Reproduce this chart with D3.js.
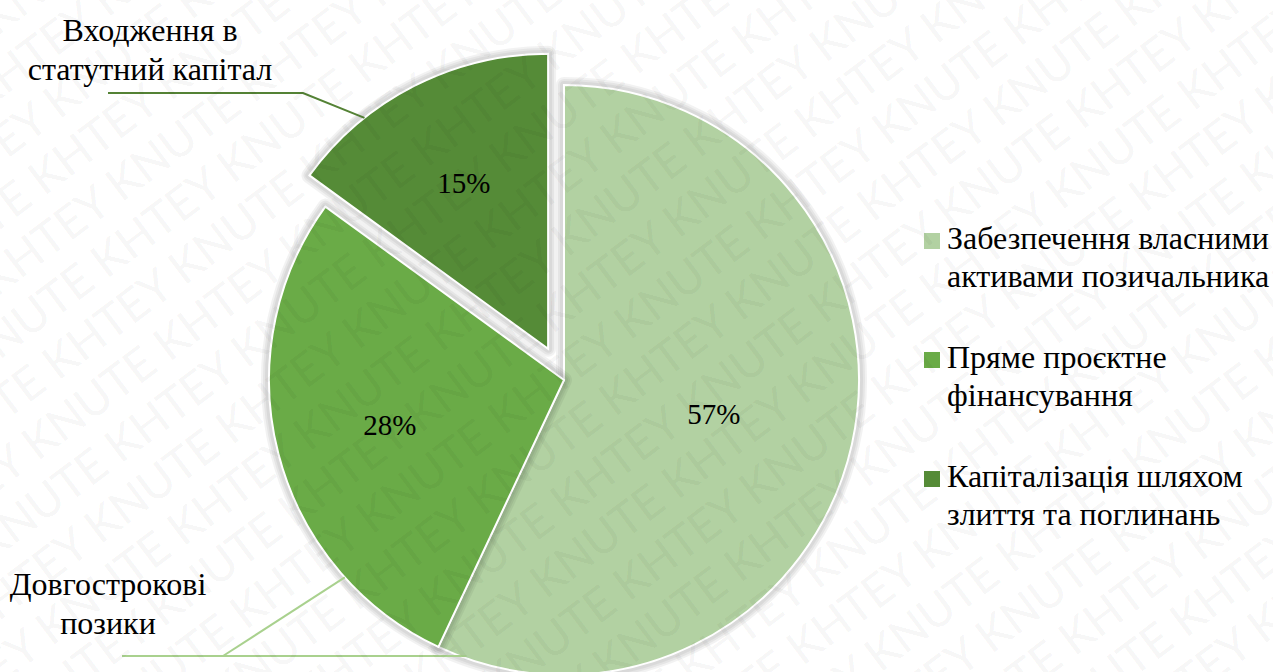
<!DOCTYPE html>
<html>
<head>
<meta charset="utf-8">
<script src="https://cdn.jsdelivr.net/npm/d3@7"></script>
</head>
<body style="margin:0;background:#fff">
<svg id="chart" width="1273" height="672" style="display:block"></svg>
<script>
// Sources of project financing, share of total (%)
const categories = [
  "Забезпечення власними активами позичальника",
  "Пряме проєктне фінансування",
  "Капіталізація шляхом злиття та поглинань"
];
const legendLines = [
  ["Забезпечення власними", "активами позичальника"],
  ["Пряме проєктне", "фінансування"],
  ["Капіталізація шляхом", "злиття та поглинань"]
];
const shares = [57, 28, 15];
const sliceColors = ["#b2d1a2", "#6aab47", "#558b37"];
const explodedIndex = 2;

// Callout annotations placed beside the pie
const calloutTexts = [
  ["Входження в", "статутний капітал"],
  ["Довгострокові", "позики"]
];
const watermarkWords = "KNUTE KHTEY";

const textFont = "Liberation Serif";
const markFont = "Lato";

const svg = d3.select("#chart");
const W = 1273, H = 672;

const cx = 564, cy = 380, R = 295, explode = 35;

const pie = d3.pie().sort(null).startAngle(0).endAngle(2 * Math.PI);
const arcs = pie(shares);
const arcGen = d3.arc().innerRadius(0).outerRadius(R);
// label distance from centre, as a fraction of the radius, per slice
const labelRadius = [0.52, 0.61, 0.63];

function offsetOf(d, i) {
  if (i !== explodedIndex) return [0, 0];
  const mid = (d.startAngle + d.endAngle) / 2;
  return [Math.sin(mid) * explode, -Math.cos(mid) * explode];
}
const sliceTransform = (d, i) => { const o = offsetOf(d, i); return `translate(${cx + o[0]},${cy + o[1]})`; };

// Layers: pie shapes, then watermark, then all text on top
const shapeLayer = svg.append("g");
const markLayer = svg.append("g").attr("pointer-events", "none");
const textLayer = svg.append("g").attr("font-family", textFont).style("font-family", textFont);

const slices = shapeLayer.selectAll("g.slice").data(arcs).join("g")
  .attr("class", "slice")
  .attr("transform", sliceTransform);

// soft halo behind each slice, built from a few widening translucent strokes
[8, 6, 4].forEach(w => {
  slices.append("path")
    .attr("d", arcGen)
    .attr("fill", "none")
    .attr("stroke", "#000")
    .attr("stroke-opacity", 0.05)
    .attr("stroke-linejoin", "round")
    .attr("stroke-width", w * 2);
});

slices.append("path")
  .attr("d", arcGen)
  .attr("fill", (d, i) => sliceColors[i])
  .attr("stroke", "#fff")
  .attr("stroke-width", 2);

// Point on a slice's outer edge at a given angle (radians, clockwise from top)
function edgePoint(i, angle) {
  const o = offsetOf(arcs[i], i);
  return [cx + o[0] + Math.sin(angle) * R, cy + o[1] - Math.cos(angle) * R];
}

// Callout: equity participation (top-left)
const deg = a => a * Math.PI / 180;
const p1 = edgePoint(2, deg(321.5));
shapeLayer.append("polyline")
  .attr("points", [[108, 93], [303, 93], p1].map(p => p.join(",")).join(" "))
  .attr("fill", "none").attr("stroke", "#548235").attr("stroke-width", 2);

// Callout: long-term loans (bottom-left)
const p2 = edgePoint(1, deg(228));
const p3 = edgePoint(0, deg(199.3));
shapeLayer.append("line")
  .attr("x1", 122).attr("y1", 656).attr("x2", p3[0]).attr("y2", 656)
  .attr("stroke", "#a9d18e").attr("stroke-width", 2);
shapeLayer.append("line")
  .attr("x1", 223).attr("y1", 656).attr("x2", p2[0]).attr("y2", p2[1])
  .attr("stroke", "#a9d18e").attr("stroke-width", 2);

// Legend swatches
const legendX = 924, legendY = 249, legendStep = 119;
shapeLayer.selectAll("rect.swatch").data(categories).join("rect")
  .attr("class", "swatch")
  .attr("x", legendX).attr("y", (d, i) => legendY + i * legendStep - 16)
  .attr("width", 16).attr("height", 16)
  .attr("fill", (d, i) => sliceColors[i]);

// Diagonal repeated watermark across the whole image
const wm = markLayer.append("g")
  .attr("transform", `translate(${W / 2},${H / 2}) rotate(-37)`);
const rowText = d3.range(12).map(() => watermarkWords).join(" ");
d3.range(-15, 16).forEach(r => {
  wm.append("text")
    .attr("x", -1300 + (r % 2 ? 100 : 0))
    .attr("y", r * 52)
    .attr("font-family", markFont)
    .attr("font-size", 46)
    .attr("fill", "#000")
    .attr("fill-opacity", 0.055)
    .text(rowText);
});

// Percentage labels inside each slice
textLayer.selectAll("text.pct").data(arcs).join("text")
  .attr("class", "pct")
  .attr("transform", (d, i) => {
    const r = R * labelRadius[i];
    const c = d3.arc().innerRadius(r).outerRadius(r).centroid(d);
    const o = offsetOf(d, i);
    return `translate(${cx + o[0] + c[0]},${cy + o[1] + c[1]})`;
  })
  .attr("text-anchor", "middle")
  .attr("dy", "0.35em")
  .attr("font-size", 29)
  .attr("fill", "#000")
  .text(d => d.value + "%");

// Callout texts
const calloutPos = [[150, 41], [108, 595]];
calloutTexts.forEach((lines, k) => {
  const t = textLayer.append("text")
    .attr("text-anchor", "middle")
    .attr("font-size", 32)
    .attr("fill", "#000");
  lines.forEach((ln, j) => {
    t.append("tspan").attr("x", calloutPos[k][0]).attr("y", calloutPos[k][1] + j * 39).text(ln);
  });
});

// Legend texts
textLayer.selectAll("text.legend").data(categories).join("text")
  .attr("class", "legend")
  .attr("font-size", 32)
  .attr("fill", "#000")
  .each(function (d, i) {
    const t = d3.select(this);
    legendLines[i].forEach((ln, j) => {
      t.append("tspan").attr("x", legendX + 23).attr("y", legendY + i * legendStep + j * 38).text(ln);
    });
  });
</script>
</body>
</html>
